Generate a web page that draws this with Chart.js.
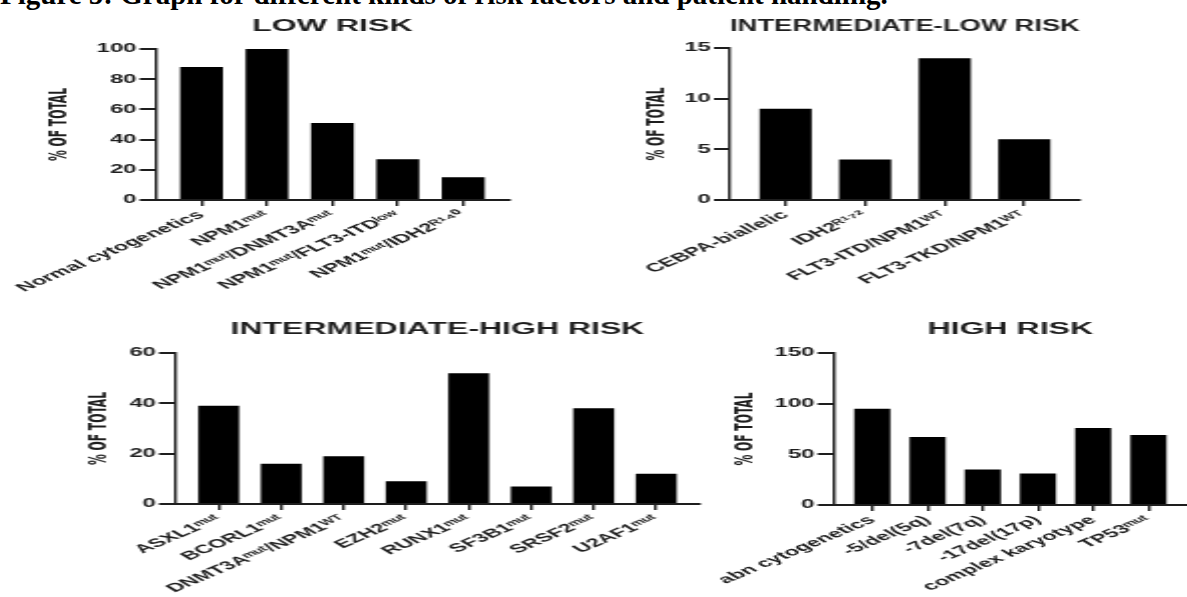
<!DOCTYPE html>
<html>
<head>
<meta charset="utf-8">
<script src="https://cdn.jsdelivr.net/npm/chart.js"></script>
<style>
  html, body { margin: 0; padding: 0; background: #fff; }
  body { width: 1187px; height: 597px; position: relative; overflow: hidden; }
  .caption {
    position: absolute; left: 0; top: -20px;
    font: bold 29px "Liberation Serif", "Times New Roman", serif;
    line-height: 29px; white-space: nowrap; color: #000;
  }
  .panel { position: absolute; transform: scaleX(2); transform-origin: 0 0; }
</style>
</head>
<body>
<div class="caption">Figure 5: Graph for different kinds of risk factors and patient handling.</div>
<div class="panel" id="p1"><canvas id="c1"></canvas></div>
<div class="panel" id="p2"><canvas id="c2"></canvas></div>
<div class="panel" id="p3"><canvas id="c3"></canvas></div>
<div class="panel" id="p4"><canvas id="c4"></canvas></div>
<script>
// data (% of total)
const lowRiskLabels = ['Normal cytogenetics', 'NPM1ᵐᵘᵗ', 'NPM1ᵐᵘᵗ/DNMT3Aᵐᵘᵗ', 'NPM1ᵐᵘᵗ/FLT3-ITDˡᵒʷ', 'NPM1ᵐᵘᵗ/IDH2ᴿ¹⁴⁰'];
const lowRiskValues = [88, 100, 51, 27, 15];

const intLowLabels = ['CEBPA-biallelic', 'IDH2ᴿ¹⁷²', 'FLT3-ITD/NPM1ᵂᵀ', 'FLT3-TKD/NPM1ᵂᵀ'];
const intLowValues = [9, 4, 14, 6];

const intHighLabels = ['ASXL1ᵐᵘᵗ', 'BCORL1ᵐᵘᵗ', 'DNMT3Aᵐᵘᵗ/NPM1ᵂᵀ', 'EZH2ᵐᵘᵗ', 'RUNX1ᵐᵘᵗ', 'SF3B1ᵐᵘᵗ', 'SRSF2ᵐᵘᵗ', 'U2AF1ᵐᵘᵗ'];
const intHighValues = [39, 16, 19, 9, 52, 7, 38, 12];

const highRiskLabels = ['abn cytogenetics', '-5/del(5q)', '-7del(7q)', '-17del(17p)', 'complex karyotype', 'TP53ᵐᵘᵗ'];
const highRiskValues = [95, 67, 35, 31, 76, 69];

const yMaxes = [100, 15, 60, 150];
const ySteps = [20, 5, 20, 50];

// the original figure is stretched sideways, so every panel is drawn narrow and scaled x2
const S = 2;
const ink = '#1e1e1e';
const sans = '"Liberation Sans", Arial, sans-serif';
const narrow = '"Liberation Sans Narrow", "DejaVu Sans Condensed", "Liberation Sans", sans-serif';
const TITLE_LH = 16 * 1.2;
const YTITLE_LH = 12 * 1.2;

function makeChart(n, title, labels, values, box) {
    const wrap = document.getElementById('p' + n);
    const width = (box.axisRight - box.left) / S + 3;
    wrap.style.left = box.left + 'px';
    wrap.style.top = box.top + 'px';
    wrap.style.width = width + 'px';
    wrap.style.height = box.height + 'px';

    const titleTop = box.titleY - box.top - TITLE_LH / 2;
    const titleBottom = box.chartTop - box.top - titleTop - TITLE_LH;

    new Chart(document.getElementById('c' + n), {
        type: 'bar',
        data: {
            datasets: [{
                data: values.map((v, i) => ({ x: i, y: v })),
                backgroundColor: '#000',
                borderWidth: 0,
                barPercentage: 1,
                categoryPercentage: 0.655
            }]
        },
        options: {
            responsive: true,
            maintainAspectRatio: false,
            animation: false,
            layout: { padding: { left: 0, right: 3, top: 0, bottom: 0 } },
            plugins: {
                legend: { display: false },
                tooltip: { enabled: false },
                title: {
                    display: true,
                    text: title,
                    fullSize: false,
                    color: ink,
                    font: { family: sans, size: 16, weight: 'bold', lineHeight: 1.2 },
                    padding: { top: titleTop, bottom: titleBottom }
                }
            },
            scales: {
                x: {
                    type: 'linear',
                    offset: false,
                    min: -0.7,
                    max: labels.length - 1 + 0.7,
                    afterBuildTicks: s => { s.ticks = labels.map((_, i) => ({ value: i })); },
                    afterFit: s => { s.height = box.top + box.height - box.chartBottom; },
                    grid: { offset: false, drawOnChartArea: false, tickLength: 6, lineWidth: 1.4, color: ink },
                    border: { color: ink, width: 2 },
                    ticks: {
                        autoSkip: false,
                        minRotation: 40,
                        maxRotation: 40,
                        padding: 2,
                        color: ink,
                        font: { family: sans, size: 12, weight: 'bold' },
                        callback: v => labels[v]
                    }
                },
                y: {
                    min: 0,
                    max: yMaxes[n - 1],
                    afterFit: s => { s.width = (box.axisX - box.left) / S; },
                    grid: { drawOnChartArea: false, tickLength: 8, lineWidth: 2, color: ink },
                    border: { color: ink, width: 1.4 },
                    ticks: {
                        stepSize: ySteps[n - 1],
                        padding: 1.5,
                        color: ink,
                        font: { family: sans, size: 12, weight: 'bold' }
                    },
                    title: {
                        display: true,
                        text: '% OF TOTAL',
                        color: ink,
                        font: { family: narrow, size: 12, weight: 'bold', lineHeight: 1.2 },
                        padding: { top: (box.yTitleX - box.left) / S - YTITLE_LH / 2, bottom: 0 }
                    }
                }
            }
        }
    });
}

makeChart(1, 'LOW RISK', lowRiskLabels, lowRiskValues,
    { left: -30, top: 0, height: 300, axisX: 155, axisRight: 507, chartTop: 49, chartBottom: 200, titleY: 26.5, yTitleX: 60 });
makeChart(2, 'INTERMEDIATE-LOW RISK', intLowLabels, intLowValues,
    { left: 590, top: 0, height: 300, axisX: 730, axisRight: 1080, chartTop: 48, chartBottom: 200, titleY: 26.5, yTitleX: 657 });
makeChart(3, 'INTERMEDIATE-HIGH RISK', intHighLabels, intHighValues,
    { left: -30, top: 300, height: 297, axisX: 175, axisRight: 700, chartTop: 353, chartBottom: 504, titleY: 329.5, yTitleX: 99 });
makeChart(4, 'HIGH RISK', highRiskLabels, highRiskValues,
    { left: 670, top: 300, height: 297, axisX: 833, axisRight: 1185, chartTop: 353, chartBottom: 505, titleY: 330, yTitleX: 746.5 });
</script>
</body>
</html>
